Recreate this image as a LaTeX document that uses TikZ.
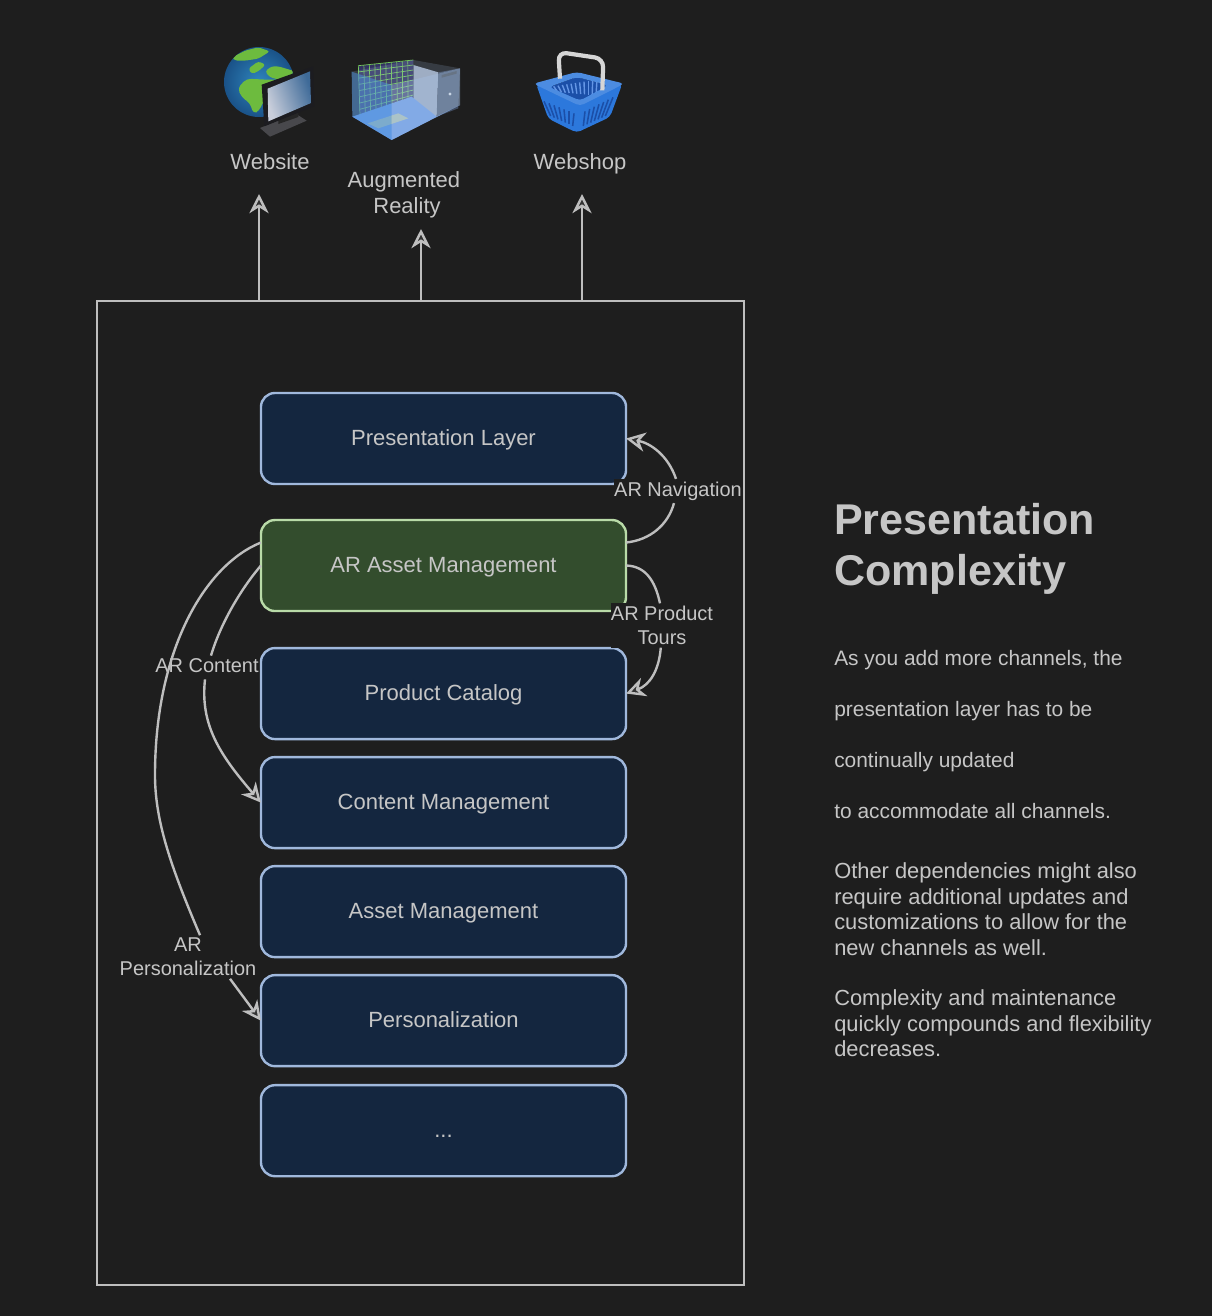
\documentclass[tikz,border=0pt]{standalone}
\usepackage{fontspec}
\setmainfont{Liberation Sans}
\usepackage{tikz}
\usetikzlibrary{positioning,arrows.meta}
\definecolor{bgdark}{HTML}{1E1E1E}
\definecolor{textgrey}{HTML}{C6C6C6}
\definecolor{linegrey}{HTML}{BEBEBE}
\definecolor{layerfill}{HTML}{14263F}
\definecolor{layerline}{HTML}{A0B8DC}
\definecolor{arfill}{HTML}{334D2D}
\definecolor{arline}{HTML}{B9DBA8}
\definecolor{globeblue}{HTML}{2F86BE}
\definecolor{globeedge}{HTML}{1A5288}
\definecolor{globegreen}{HTML}{6DBB3E}
\definecolor{monitordark}{HTML}{1C1C20}
\definecolor{monitorbase}{HTML}{48484C}
\definecolor{screenlight}{HTML}{C9CEDB}
\definecolor{screendark}{HTML}{3E6A98}
\definecolor{roomblue}{HTML}{6496E6}
\definecolor{roomface}{HTML}{5C9BE0}
\definecolor{roomlight}{HTML}{A8C4E8}
\definecolor{towerside}{HTML}{9CA8BC}
\definecolor{towerfront}{HTML}{414C60}
\definecolor{gridgreen}{HTML}{74C85A}
\definecolor{basketblue}{HTML}{2C78DC}
\definecolor{basketdark}{HTML}{1B4FA8}
\definecolor{handlegrey}{HTML}{D6D6D6}
\tikzset{
	every node/.style={text=textgrey, font=\fontsize{15.65}{18.1}\selectfont},
	link/.style={draw=linegrey, line width=1.7pt},
	linkarrow/.style={link, -{Stealth[length=4.8mm,width=4.8mm,inset=1.5mm,fill=black!80]}},
	linklabel/.style={fill=bgdark, inner xsep=0pt, inner ysep=2pt, outer sep=0pt, align=center, font=\fontsize{14.2}{17.1}\selectfont},
	layerbox/.style={draw=layerline, fill=layerfill, line width=1.7pt, rounded corners=0.35cm, minimum width=9.125cm, minimum height=2.275cm, inner sep=0pt, outer sep=0pt, text height=12.5pt, text depth=2.5pt},
	arbox/.style={layerbox, draw=arline, fill=arfill},
	platform/.style={draw=linegrey, line width=1.7pt, minimum width=16.175cm, minimum height=24.6cm, outer sep=0pt},
	iconlabel/.style={inner sep=0pt, align=center},
	bodytext/.style={inner sep=0pt, anchor=west, align=left},
	iconscope/.style={shift={#1}, x=0.008333cm, y=-0.008333cm}
}

\begin{document}
\begin{tikzpicture}[x=0.025cm,y=-0.025cm]
		\fill[bgdark] (0,0) rectangle (1212,1316);
		\useasboundingbox (0,0) rectangle (1212,1316);

		% globe and monitor
		\begin{scope}[iconscope={(215,38)}]
			\shade[inner color=globeblue, outer color=globeedge] (132,132) circle (105);
			\begin{scope}
				\clip (132,132) circle (105);
				\fill[globegreen, rounded corners=3pt] (68,150) -- (95,122) -- (155,125) -- (210,125) -- (175,165) -- (145,190) -- (133,218) -- (115,228) -- (105,195) -- (80,178) -- cycle;
				\fill[globegreen, rounded corners=2pt] (100,92) -- (130,70) -- (152,80) -- (130,100) -- (110,108) -- cycle;
				\fill[globegreen, rounded corners=2pt] (52,58) -- (90,38) -- (130,28) -- (165,40) -- (130,62) -- (90,68) -- (60,68) -- cycle;
				\fill[globegreen, rounded corners=2pt] (170,85) -- (190,85) -- (240,100) -- (205,128) -- (165,118) -- (150,100) -- cycle;
			\end{scope}
			\fill[monitorbase] (135,270) -- (195,245) -- (250,232) -- (275,248) -- (165,296) -- cycle;
			\fill[black!70!gray] (190,258) -- (190,235) -- (250,215) -- (250,237) -- cycle;
			\fill[monitordark] (140,140) -- (295,85) -- (298,205) -- (148,265) -- cycle;
			\shade[left color=screenlight, right color=screendark, shading angle=110] (158,152) -- (285,100) -- (288,195) -- (160,250) -- cycle;
		\end{scope}

		% augmented reality room
		\begin{scope}[iconscope={(345,55)}]
			\fill[towerside] (205,30) -- (280,52) -- (275,185) -- (205,150) -- cycle;
			\fill[towerfront] (280,52) -- (345,40) -- (340,160) -- (275,185) -- cycle;
			\fill[black!80] (290,60) -- (335,48) -- (335,56) -- (290,68) -- cycle;
			\fill[white!80!gray] (315,117) circle (5);
			\fill[black!70!blue!60!gray] (40,32) -- (205,15) -- (205,135) -- (45,182) -- cycle;
			\foreach \g in {0,1,...,9}
				\draw[gridgreen, line width=0.5pt] ({40+\g*16.5},{32-\g*1.7}) -- ({45+\g*16},{182-\g*4.7});
			\foreach \g in {0,1,...,8}
				\draw[gridgreen, line width=0.5pt] ({40+\g*0.6},{32+\g*18.7}) -- (205,{15+\g*15});
			\fill[roomblue] (22,185) -- (140,255) -- (345,150) -- (275,185) -- (200,125) -- cycle;
			\fill[green!15!gray!55!white] (68,205) -- (160,175) -- (190,190) -- (100,220) -- cycle;
			\fill[roomface, fill opacity=0.6] (20,50) -- (140,90) -- (140,255) -- (22,185) -- cycle;
			\fill[roomlight, fill opacity=0.45] (140,90) -- (345,40) -- (345,150) -- (140,255) -- cycle;
			\fill[roomlight, fill opacity=0.18] (20,50) -- (205,15) -- (345,40) -- (140,90) -- cycle;
		\end{scope}

		% shopping basket
		\begin{scope}[iconscope={(525,42)}]
			\fill[basketblue, rounded corners=3pt] (33,125) -- (165,150) -- (292,125) -- (255,225) -- (155,272) -- (70,230) -- cycle;
			\foreach \s in {0,1,...,6}
				\draw[basketdark, line width=1.1pt] ({57+\s*15},{178+\s*6}) -- ({77+\s*11},{222+\s*5});
			\foreach \s in {0,1,...,6}
				\draw[basketdark, line width=1.1pt] ({180+\s*14},{208-\s*7}) -- ({175+\s*11},{252-\s*5});
			\fill[basketdark] (72,135) -- (155,105) -- (250,130) -- (165,176) -- cycle;
			\foreach \s in {0,1,...,10}
				\draw[roomblue, line width=1pt] ({86+\s*13},{133-\s*2}) -- ({98+\s*11.5},{150+\s*1});
			\fill[basketblue!85!white, even odd rule, rounded corners=3pt] (25,125) -- (155,90) -- (298,125) -- (165,192) -- cycle (72,135) -- (155,105) -- (250,130) -- (165,176) -- cycle;
			\draw[handlegrey, line width=3pt, rounded corners=6pt] (105,110) -- (100,30) -- (235,50) -- (232,145);
		\end{scope}

		% channels
		\node[iconlabel] (website) at (270,162) {Website};
		\node[iconlabel] (arlabel) at (407,195) {\hbox{Augmented\ }\\Reality};
		\node[iconlabel] (webshop) at (580,164) {Webshop};
		\coordinate (websitetip) at (259,194);
		\coordinate (artip) at (421,229);
		\coordinate (webshoptip) at (582,194);

		% application
		\node[platform] (app) at (420.5,793) {};
		\node[layerbox] (pres) at (443.5,438.5) {Presentation Layer};
		\node[arbox, below=0.9cm of pres] (armgmt) {AR Asset Management};
		\node[layerbox, below=0.925cm of armgmt] (catalog) {Product Catalog};
		\node[layerbox, below=0.45cm of catalog] (content) {Content Management};
		\node[layerbox, below=0.45cm of content] (asset) {Asset Management};
		\node[layerbox, below=0.45cm of asset] (personal) {Personalization};
		\node[layerbox, below=0.475cm of personal] (more) {...};

		\draw[linkarrow] (websitetip |- app.north) -- (websitetip);
		\draw[linkarrow] (artip |- app.north) -- (artip);
		\draw[linkarrow] (webshoptip |- app.north) -- (webshoptip);

		\coordinate[above=0.575cm of armgmt.east] (navstart);
		\coordinate[above=0.575cm of armgmt.west] (persstart);

		% dependencies
		\node[linklabel] (navlabel) at (678,491) {AR Navigation};
		\node[linklabel] (tourlabel) at (662,625.5) {AR Product\\Tours};
		\node[linklabel, text depth=3pt] (contentlabel) at (207,667.5) {AR Content};
		\node[linklabel] (perslabel) at (188,957) {AR\\Personalization};

		\draw[link] (navstart) .. controls (650,540) and (668,525) .. ([xshift=-0.1cm]navlabel.south);
		\draw[linkarrow] ([xshift=-0.05cm]navlabel.north) .. controls (668,455) and (650,443) .. (pres.east);
		\draw[link] (armgmt.east) .. controls (645,566) and (655,580) .. ([xshift=-0.05cm]tourlabel.north);
		\draw[linkarrow] ([xshift=-0.03cm]tourlabel.south) .. controls (659,670) and (650,685) .. (catalog.east);
		\draw[link] (armgmt.west) .. controls (240,590) and (220,625) .. ([xshift=0.1cm]contentlabel.north);
		\draw[linkarrow] ([xshift=-0.05cm]contentlabel.south) .. controls (200,725) and (220,755) .. (content.west);
		\draw[link] (persstart) .. controls (205,565) and (155,650) .. (155,775) .. controls (155,820) and (170,865) .. ([xshift=0.3cm]perslabel.north);
		\draw[linkarrow] ([xshift=1.05cm]perslabel.south) -- (personal.west);

		% side text
		\node[bodytext, font=\fontsize{30.6}{36.3}\selectfont\bfseries] (title) at (834,549) {Presentation\\Complexity};
		\node[bodytext, font=\fontsize{14.87}{36.3}\selectfont] (para1) at (834,734.5) {As you add more channels, the\\presentation layer has to be\\continually updated\\to accommodate all channels.};
		\node[bodytext, font=\fontsize{15.55}{18.1}\selectfont] (para2) at (834,909) {Other dependencies might also\\require additional updates and\\customizations to allow for the\\new channels as well.};
		\node[bodytext, font=\fontsize{15.55}{18.1}\selectfont] (para3) at (834,1023.5) {Complexity and maintenance\\quickly compounds and flexibility\\decreases.};
	\end{tikzpicture}
\end{document}
